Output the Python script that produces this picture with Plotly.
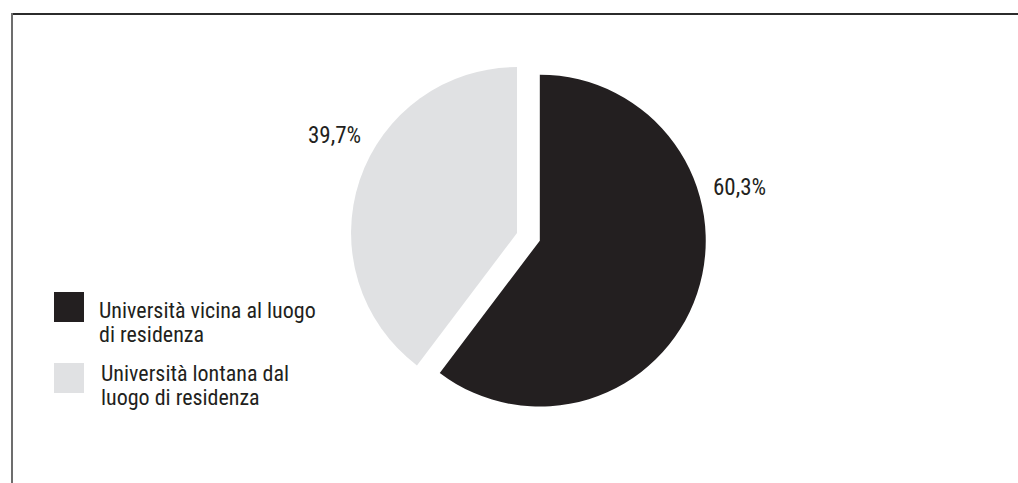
import textwrap
import plotly.graph_objects as go

# Dati: scelta dell'università rispetto al luogo di residenza (%)
labels = ["Università vicina al luogo di residenza",
          "Università lontana dal luogo di residenza"]
values = [60.3, 39.7]
colors = ["#231f20", "#e0e1e3"]
pull = [0.145, 0.0]

W, H = 1018, 483
FONT = "Liberation Sans Narrow, Arial Narrow, Roboto Condensed, sans-serif"
TEXT_COLOR = "#231f20"


def px(x):
    return x / W


def py(y):
    return 1 - y / H


def fmt_pct(v):
    return f"{v:.1f}".replace(".", ",") + "%"


fig = go.Figure(
    go.Pie(
        labels=labels,
        values=values,
        marker=dict(colors=colors, line=dict(width=0)),
        pull=pull,
        sort=False,
        direction="clockwise",
        rotation=0,
        textinfo="none",
        hoverinfo="label+percent",
        showlegend=False,
        domain=dict(x=[px(327), px(707)], y=[py(423), py(43)]),
    )
)

annotations = []

# Percentuali accanto alle fette
pct_pos = [(711, 188), (306, 135)]
for v, (x, y) in zip(values, pct_pos):
    annotations.append(dict(
        x=px(x), y=py(y), xref="paper", yref="paper",
        text=fmt_pct(v), showarrow=False,
        xanchor="left", yanchor="middle",
        font=dict(family=FONT, size=23, color=TEXT_COLOR),
    ))

# Legenda disegnata a mano: quadrato colorato + testo su due righe
shapes = []
legend_rows = [(292, 97, 310.5), (363, 99, 373.5)]
for lab, col, (sq_top, tx, ty) in zip(labels, colors, legend_rows):
    shapes.append(dict(
        type="rect", xref="paper", yref="paper",
        x0=px(54), x1=px(84), y0=py(sq_top + 30), y1=py(sq_top),
        fillcolor=col, line=dict(width=0),
    ))
    for i, line in enumerate(textwrap.wrap(lab, 26)):
        annotations.append(dict(
            x=px(tx), y=py(ty + i * 23.5), xref="paper", yref="paper",
            text=line, showarrow=False,
            xanchor="left", yanchor="middle",
            font=dict(family=FONT, size=22, color=TEXT_COLOR),
        ))

# Cornice: bordo superiore e sinistro
shapes.append(dict(type="line", xref="paper", yref="paper",
                   x0=px(11), x1=1, y0=py(14), y1=py(14),
                   line=dict(color="#2b2b2b", width=2)))
shapes.append(dict(type="line", xref="paper", yref="paper",
                   x0=px(12), x1=px(12), y0=py(13), y1=0,
                   line=dict(color="#6d6d6d", width=2)))

fig.update_layout(
    width=W, height=H,
    margin=dict(l=0, r=0, t=0, b=0),
    paper_bgcolor="white",
    plot_bgcolor="white",
    annotations=annotations,
    shapes=shapes,
    font=dict(family=FONT, color=TEXT_COLOR),
)

fig.write_html("out.html")
